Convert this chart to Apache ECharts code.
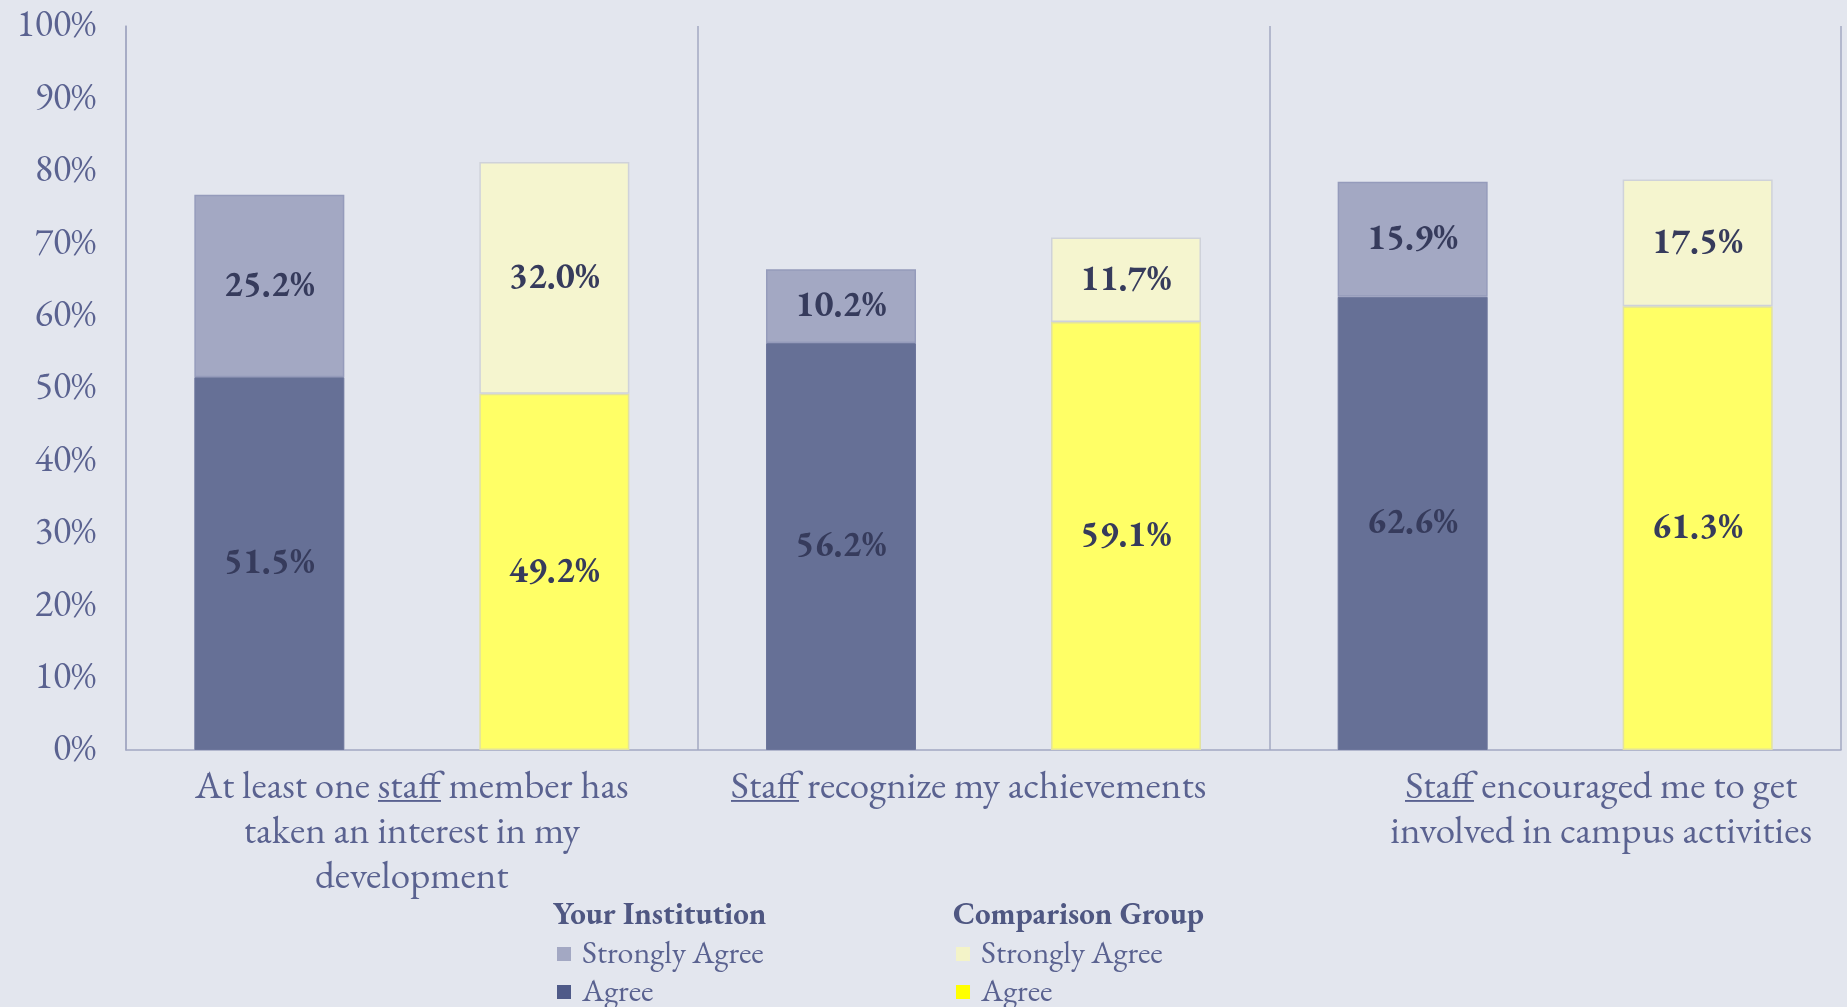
<!DOCTYPE html>
<html>
<head>
<meta charset="utf-8">
<script src="https://cdn.jsdelivr.net/npm/echarts@6/dist/echarts.min.js"></script>
<style>
  html, body { margin: 0; padding: 0; background: #e3e6ee; }
  #chart { width: 1847px; height: 1007px; }
</style>
</head>
<body>
<div id="chart"></div>
<script>
// data
const categories = [
  "At least one staff member has\ntaken an interest in my\ndevelopment",
  "Staff recognize my achievements",
  "Staff encouraged me to get\ninvolved in campus activities"
];
const yourAgree = [51.5, 56.2, 62.6];
const yourStrongly = [25.2, 10.2, 15.9];
const compAgree = [49.2, 59.1, 61.3];
const compStrongly = [32.0, 11.7, 17.5];
const yTicks = [0, 10, 20, 30, 40, 50, 60, 70, 80, 90, 100];

const serif = "'EB Garamond', Garamond, 'Liberation Serif', serif";
const axisColor = "#a3a8c2";
const labelColor = "#5a6290";
const valueColor = "#363b5c";

// underline under "staff": a thin strip drawn as the rich-text background
const ul = document.createElement("canvas");
ul.width = 2;
ul.height = 45;
const ctx = ul.getContext("2d");
ctx.fillStyle = labelColor;
ctx.fillRect(0, 37, 2, 2);

const chart = echarts.init(document.getElementById("chart"));

const valueLabel = {
  show: true,
  position: "inside",
  fontFamily: serif,
  fontWeight: "bold",
  fontSize: 36,
  color: valueColor,
  formatter: (p) => p.value.toFixed(1) + "%"
};

// Excel nudges the 2nd and 3rd category labels sideways
const catPads = [[0, 0, 0, 0], [0, 30, 0, 0], [0, 0, 0, 92]];

const legendText = { fontFamily: serif, fontSize: 32, color: labelColor, padding: [0, 0, 0, 6] };

function legendItem(name, color, prefix, left, top) {
  return {
    left: left, top: top, padding: 0,
    itemWidth: 14, itemHeight: 14,
    icon: "rect",
    data: [{ name: name, itemStyle: { color: color, borderWidth: 0 } }],
    formatter: (n) => n.replace(prefix, ""),
    textStyle: legendText
  };
}

chart.setOption({
  backgroundColor: "#e3e6ee",
  animation: false,
  title: [
    {
      text: "Your Institution",
      left: 553, top: 900, padding: 0,
      textStyle: { fontFamily: serif, fontWeight: "bold", fontSize: 31, color: "#4f5782" }
    },
    {
      text: "Comparison Group",
      left: 953, top: 900, padding: 0,
      textStyle: { fontFamily: serif, fontWeight: "bold", fontSize: 31, color: "#4f5782" }
    }
  ],
  legend: [
    legendItem("Your Strongly Agree", "#a3a8c3", "Your ", 557, 938),
    legendItem("Your Agree", "#4f5a88", "Your ", 557, 976),
    legendItem("Comparison Strongly Agree", "#f3f3c8", "Comparison ", 956, 938),
    legendItem("Comparison Agree", "#ffff00", "Comparison ", 956, 976)
  ],
  grid: { left: 126, right: 6, top: 26, bottom: 257 },
  xAxis: {
    type: "category",
    data: categories.map((c, i) => ({ value: c, textStyle: { padding: catPads[i] } })),
    axisLine: { lineStyle: { color: axisColor, width: 1.5 } },
    axisTick: { show: false },
    splitLine: { show: true, interval: 0, lineStyle: { color: axisColor, width: 1.5 } },
    axisLabel: {
      interval: 0,
      margin: 15,
      fontFamily: serif,
      fontSize: 39,
      lineHeight: 45,
      color: labelColor,
      formatter: (v) => v.replace(/staff/i, (m) => "{u|" + m + "}"),
      rich: {
        u: {
          fontFamily: serif,
          fontSize: 39,
          lineHeight: 45,
          color: labelColor,
          backgroundColor: { image: ul }
        }
      }
    }
  },
  yAxis: {
    type: "value",
    min: yTicks[0],
    max: yTicks[yTicks.length - 1],
    interval: 10,
    axisLine: { show: true, lineStyle: { color: axisColor, width: 1.5 } },
    axisTick: { show: false },
    splitLine: { show: false },
    axisLabel: {
      margin: 30,
      fontFamily: serif,
      fontSize: 38,
      color: labelColor,
      formatter: "{value}%"
    }
  },
  series: [
    {
      name: "Your Agree",
      type: "bar",
      stack: "you",
      barWidth: 150,
      barGap: "90%",
      data: yourAgree,
      itemStyle: { color: "#667096", borderColor: "#6c759b", borderWidth: 1 },
      label: valueLabel
    },
    {
      name: "Your Strongly Agree",
      type: "bar",
      stack: "you",
      barWidth: 150,
      barGap: "90%",
      data: yourStrongly,
      itemStyle: { color: "#a3a8c3", borderColor: "#959bbb", borderWidth: 1.5 },
      label: valueLabel
    },
    {
      name: "Comparison Agree",
      type: "bar",
      stack: "comp",
      barWidth: 150,
      barGap: "90%",
      data: compAgree,
      itemStyle: { color: "#ffff66", borderColor: "#e2e2a0", borderWidth: 1.5 },
      label: valueLabel
    },
    {
      name: "Comparison Strongly Agree",
      type: "bar",
      stack: "comp",
      barWidth: 150,
      barGap: "90%",
      data: compStrongly,
      itemStyle: { color: "#f5f5cf", borderColor: "#cfd2da", borderWidth: 1.5 },
      label: valueLabel
    }
  ]
});

window.addEventListener("resize", () => chart.resize());
</script>
</body>
</html>
